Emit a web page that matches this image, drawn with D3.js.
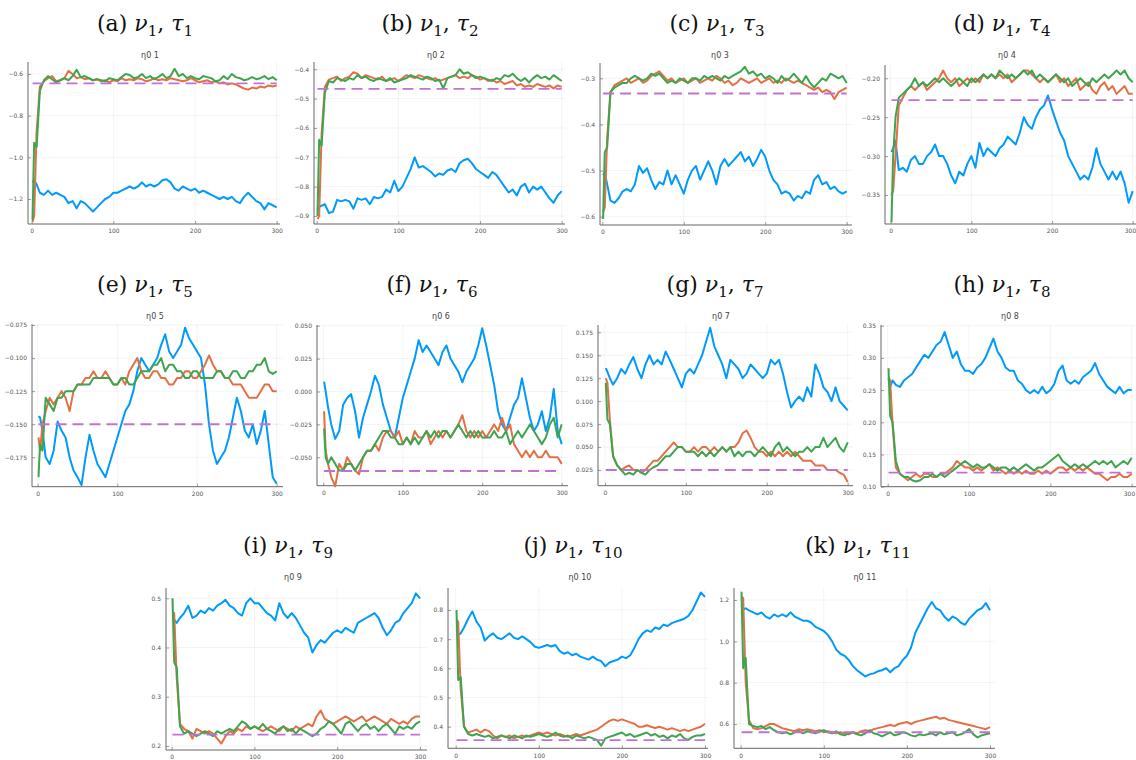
<!DOCTYPE html>
<html>
<head>
<meta charset="utf-8">
<script src="https://cdn.jsdelivr.net/npm/d3@7"></script>
<style>
	body { margin: 0; background: #fff; }
	svg { display: block; }
</style>
</head>
<body>
<div id="fig"></div>
<script>
// iteration index of every stored sample (1,3,6,10 then every 5 steps)
var steps = [1, 3, 6, 10,
	15, 20, 25, 30, 35, 40, 45, 50, 55, 60,
	65, 70, 75, 80, 85, 90, 95, 100, 105, 110,
	115, 120, 125, 130, 135, 140, 145, 150, 155, 160,
	165, 170, 175, 180, 185, 190, 195, 200, 205, 210,
	215, 220, 225, 230, 235, 240, 245, 250, 255, 260,
	265, 270, 275, 280, 285, 290, 295, 300];

// (a)
var blue_a = [-1.12, -1.11, -1.13, -1.17,
	-1.18, -1.16, -1.18, -1.17, -1.18, -1.19, -1.22, -1.21, -1.245, -1.21,
	-1.22, -1.24, -1.26, -1.24, -1.22, -1.20, -1.19, -1.17, -1.17, -1.16,
	-1.15, -1.14, -1.15, -1.14, -1.12, -1.14, -1.13, -1.14, -1.13, -1.11,
	-1.105, -1.12, -1.15, -1.16, -1.14, -1.15, -1.16, -1.15, -1.17, -1.16,
	-1.17, -1.18, -1.19, -1.20, -1.19, -1.20, -1.19, -1.21, -1.22, -1.19,
	-1.17, -1.19, -1.21, -1.22, -1.25, -1.22, -1.23, -1.24];
var orange_a = [-1.31, -1.28, -0.88, -0.66,
	-0.635, -0.62, -0.61, -0.635, -0.63, -0.62, -0.585, -0.60, -0.62, -0.615,
	-0.625, -0.62, -0.63, -0.625, -0.635, -0.63, -0.64, -0.63, -0.635, -0.62,
	-0.63, -0.625, -0.63, -0.62, -0.625, -0.635, -0.63, -0.62, -0.63, -0.625,
	-0.63, -0.62, -0.625, -0.63, -0.635, -0.63, -0.62, -0.63, -0.64, -0.635,
	-0.63, -0.64, -0.635, -0.645, -0.64, -0.65, -0.645, -0.65, -0.66, -0.67,
	-0.675, -0.665, -0.67, -0.66, -0.665, -0.655, -0.66, -0.655];
var green_a = [-1.30, -0.93, -0.95, -0.68,
	-0.63, -0.61, -0.625, -0.64, -0.63, -0.62, -0.63, -0.61, -0.58, -0.615,
	-0.61, -0.62, -0.63, -0.625, -0.63, -0.635, -0.62, -0.625, -0.63, -0.615,
	-0.60, -0.605, -0.62, -0.615, -0.60, -0.62, -0.61, -0.625, -0.615, -0.60,
	-0.62, -0.61, -0.575, -0.61, -0.60, -0.62, -0.61, -0.62, -0.625, -0.61,
	-0.615, -0.62, -0.635, -0.63, -0.61, -0.625, -0.60, -0.615, -0.62, -0.63,
	-0.625, -0.615, -0.625, -0.62, -0.61, -0.625, -0.615, -0.63];

// (b)
var blue_b = [-0.88, -0.87, -0.865, -0.86,
	-0.89, -0.885, -0.845, -0.85, -0.845, -0.85, -0.875, -0.84, -0.845, -0.84,
	-0.86, -0.835, -0.84, -0.835, -0.81, -0.82, -0.78, -0.815, -0.80, -0.77,
	-0.74, -0.70, -0.735, -0.73, -0.74, -0.75, -0.765, -0.755, -0.76, -0.745,
	-0.74, -0.75, -0.72, -0.71, -0.705, -0.72, -0.74, -0.75, -0.76, -0.77,
	-0.75, -0.76, -0.78, -0.80, -0.82, -0.81, -0.83, -0.80, -0.79, -0.82,
	-0.80, -0.81, -0.80, -0.82, -0.84, -0.855, -0.83, -0.815];
var orange_b = [-0.91, -0.90, -0.62, -0.46,
	-0.435, -0.43, -0.425, -0.44, -0.43, -0.425, -0.41, -0.415, -0.43, -0.42,
	-0.425, -0.43, -0.435, -0.425, -0.44, -0.435, -0.43, -0.44, -0.43, -0.42,
	-0.425, -0.43, -0.42, -0.425, -0.43, -0.435, -0.43, -0.44, -0.435, -0.43,
	-0.425, -0.42, -0.43, -0.425, -0.43, -0.42, -0.425, -0.435, -0.43, -0.44,
	-0.435, -0.445, -0.44, -0.45, -0.445, -0.44, -0.455, -0.45, -0.46, -0.455,
	-0.46, -0.45, -0.455, -0.46, -0.455, -0.465, -0.455, -0.46];
var green_b = [-0.90, -0.64, -0.66, -0.48,
	-0.44, -0.445, -0.43, -0.435, -0.44, -0.43, -0.435, -0.42, -0.43, -0.425,
	-0.435, -0.44, -0.43, -0.435, -0.44, -0.43, -0.445, -0.44, -0.435, -0.43,
	-0.42, -0.425, -0.43, -0.435, -0.425, -0.43, -0.44, -0.435, -0.465, -0.43,
	-0.425, -0.42, -0.40, -0.415, -0.41, -0.42, -0.43, -0.425, -0.43, -0.435,
	-0.44, -0.43, -0.435, -0.42, -0.425, -0.415, -0.43, -0.44, -0.43, -0.445,
	-0.43, -0.42, -0.43, -0.425, -0.435, -0.42, -0.43, -0.44];

// (c)
var blue_c = [-0.51, -0.505, -0.53, -0.565,
	-0.57, -0.56, -0.545, -0.54, -0.545, -0.53, -0.49, -0.505, -0.495, -0.52,
	-0.54, -0.525, -0.53, -0.50, -0.53, -0.51, -0.53, -0.55, -0.52, -0.50,
	-0.49, -0.52, -0.50, -0.48, -0.50, -0.53, -0.49, -0.475, -0.49, -0.48,
	-0.47, -0.46, -0.48, -0.47, -0.49, -0.475, -0.455, -0.47, -0.50, -0.52,
	-0.53, -0.55, -0.545, -0.55, -0.565, -0.555, -0.56, -0.545, -0.55, -0.52,
	-0.51, -0.53, -0.525, -0.54, -0.535, -0.545, -0.55, -0.545];
var orange_c = [-0.59, -0.58, -0.43, -0.33,
	-0.315, -0.31, -0.305, -0.30, -0.31, -0.305, -0.30, -0.31, -0.305, -0.295,
	-0.29, -0.285, -0.295, -0.305, -0.30, -0.31, -0.305, -0.30, -0.31, -0.305,
	-0.30, -0.31, -0.305, -0.30, -0.305, -0.295, -0.30, -0.31, -0.305, -0.315,
	-0.31, -0.30, -0.305, -0.31, -0.305, -0.30, -0.31, -0.305, -0.30, -0.31,
	-0.305, -0.31, -0.30, -0.305, -0.31, -0.305, -0.31, -0.315, -0.32, -0.325,
	-0.32, -0.33, -0.325, -0.33, -0.345, -0.33, -0.325, -0.32];
var green_c = [-0.605, -0.46, -0.45, -0.33,
	-0.32, -0.315, -0.31, -0.31, -0.30, -0.295, -0.30, -0.305, -0.30, -0.29,
	-0.295, -0.29, -0.30, -0.31, -0.305, -0.31, -0.30, -0.305, -0.31, -0.30,
	-0.30, -0.305, -0.295, -0.30, -0.295, -0.30, -0.305, -0.295, -0.30, -0.295,
	-0.29, -0.285, -0.275, -0.29, -0.285, -0.295, -0.29, -0.30, -0.295, -0.30,
	-0.31, -0.295, -0.305, -0.30, -0.29, -0.30, -0.31, -0.295, -0.31, -0.32,
	-0.31, -0.30, -0.305, -0.29, -0.295, -0.30, -0.295, -0.31];

// (d)
var blue_d = [-0.295, -0.29, -0.28, -0.318,
	-0.315, -0.32, -0.305, -0.30, -0.31, -0.31, -0.30, -0.295, -0.285, -0.30,
	-0.30, -0.31, -0.325, -0.335, -0.32, -0.325, -0.31, -0.30, -0.315, -0.283,
	-0.30, -0.29, -0.295, -0.30, -0.29, -0.285, -0.275, -0.28, -0.285, -0.27,
	-0.25, -0.26, -0.265, -0.25, -0.24, -0.235, -0.222, -0.24, -0.255, -0.27,
	-0.28, -0.30, -0.31, -0.32, -0.33, -0.325, -0.33, -0.315, -0.29, -0.31,
	-0.32, -0.33, -0.32, -0.33, -0.32, -0.335, -0.36, -0.345];
var orange_d = [-0.35, -0.345, -0.30, -0.235,
	-0.225, -0.215, -0.21, -0.215, -0.21, -0.205, -0.215, -0.21, -0.205, -0.20,
	-0.19, -0.20, -0.205, -0.20, -0.21, -0.205, -0.20, -0.205, -0.20, -0.205,
	-0.195, -0.20, -0.195, -0.20, -0.195, -0.20, -0.195, -0.205, -0.20, -0.195,
	-0.19, -0.19, -0.195, -0.20, -0.205, -0.20, -0.205, -0.20, -0.195, -0.205,
	-0.20, -0.21, -0.205, -0.20, -0.215, -0.21, -0.205, -0.215, -0.22, -0.21,
	-0.205, -0.215, -0.21, -0.22, -0.215, -0.21, -0.22, -0.22];
var green_d = [-0.385, -0.30, -0.25, -0.225,
	-0.22, -0.215, -0.21, -0.20, -0.21, -0.205, -0.21, -0.205, -0.20, -0.205,
	-0.20, -0.205, -0.21, -0.205, -0.20, -0.205, -0.21, -0.20, -0.205, -0.20,
	-0.195, -0.20, -0.195, -0.20, -0.19, -0.195, -0.20, -0.195, -0.20, -0.195,
	-0.19, -0.195, -0.19, -0.20, -0.195, -0.20, -0.205, -0.20, -0.195, -0.20,
	-0.205, -0.20, -0.21, -0.205, -0.20, -0.205, -0.21, -0.20, -0.205, -0.20,
	-0.195, -0.20, -0.195, -0.19, -0.195, -0.19, -0.20, -0.205];

// (e)
var blue_e = [-0.144, -0.145, -0.155, -0.175,
	-0.18, -0.17, -0.148, -0.155, -0.16, -0.175, -0.185, -0.19, -0.196, -0.175,
	-0.158, -0.17, -0.18, -0.185, -0.19, -0.18, -0.17, -0.16, -0.15, -0.14,
	-0.135, -0.125, -0.11, -0.10, -0.105, -0.11, -0.105, -0.10, -0.09, -0.082,
	-0.095, -0.10, -0.095, -0.09, -0.077, -0.085, -0.09, -0.095, -0.10, -0.12,
	-0.15, -0.17, -0.18, -0.175, -0.17, -0.16, -0.145, -0.13, -0.14, -0.155,
	-0.16, -0.15, -0.165, -0.155, -0.14, -0.165, -0.19, -0.195];
var orange_e = [-0.16, -0.17, -0.15, -0.14,
	-0.13, -0.135, -0.13, -0.125, -0.13, -0.14, -0.125, -0.12, -0.12, -0.115,
	-0.115, -0.11, -0.115, -0.115, -0.11, -0.115, -0.12, -0.12, -0.115, -0.12,
	-0.11, -0.105, -0.10, -0.11, -0.115, -0.115, -0.11, -0.11, -0.115, -0.115,
	-0.12, -0.12, -0.115, -0.115, -0.11, -0.11, -0.115, -0.115, -0.11, -0.105,
	-0.098, -0.105, -0.11, -0.11, -0.115, -0.115, -0.12, -0.12, -0.12, -0.125,
	-0.13, -0.13, -0.13, -0.125, -0.12, -0.12, -0.125, -0.125];
var green_e = [-0.19, -0.165, -0.17, -0.13,
	-0.135, -0.14, -0.13, -0.13, -0.125, -0.125, -0.125, -0.12, -0.12, -0.12,
	-0.12, -0.115, -0.115, -0.115, -0.115, -0.115, -0.12, -0.12, -0.115, -0.115,
	-0.12, -0.12, -0.115, -0.11, -0.11, -0.11, -0.105, -0.105, -0.10, -0.11,
	-0.105, -0.105, -0.11, -0.11, -0.115, -0.115, -0.11, -0.11, -0.115, -0.115,
	-0.115, -0.115, -0.11, -0.11, -0.115, -0.115, -0.11, -0.11, -0.115, -0.115,
	-0.11, -0.11, -0.105, -0.105, -0.10, -0.11, -0.112, -0.11];

// (f)
var blue_f = [0.0075, 0.0, -0.012, -0.025,
	-0.036, -0.03, -0.01, -0.005, -0.002, -0.015, -0.035, -0.02, -0.01, 0.0,
	0.012, 0.005, -0.01, -0.02, -0.03, -0.035, -0.02, -0.005, 0.005, 0.015,
	0.025, 0.039, 0.03, 0.035, 0.03, 0.025, 0.02, 0.03, 0.035, 0.025,
	0.02, 0.015, 0.007, 0.015, 0.02, 0.025, 0.035, 0.048, 0.035, 0.02,
	0.005, -0.015, -0.025, -0.03, -0.02, -0.01, -0.005, 0.01, -0.005, -0.02,
	-0.03, -0.025, -0.015, -0.03, -0.02, 0.002, -0.03, -0.04];
var orange_f = [-0.015, -0.045, -0.055, -0.065,
	-0.072, -0.055, -0.06, -0.05, -0.055, -0.06, -0.063, -0.05, -0.045, -0.045,
	-0.04, -0.045, -0.035, -0.03, -0.03, -0.035, -0.03, -0.04, -0.035, -0.04,
	-0.03, -0.035, -0.035, -0.03, -0.04, -0.035, -0.03, -0.035, -0.03, -0.035,
	-0.03, -0.025, -0.018, -0.03, -0.035, -0.03, -0.035, -0.03, -0.035, -0.03,
	-0.025, -0.03, -0.02, -0.03, -0.025, -0.04, -0.045, -0.05, -0.045, -0.05,
	-0.045, -0.05, -0.05, -0.045, -0.05, -0.05, -0.05, -0.055];
var green_f = [-0.028, -0.05, -0.055, -0.05,
	-0.055, -0.06, -0.06, -0.055, -0.055, -0.06, -0.055, -0.05, -0.045, -0.045,
	-0.04, -0.035, -0.03, -0.03, -0.035, -0.035, -0.04, -0.04, -0.035, -0.04,
	-0.035, -0.04, -0.035, -0.03, -0.035, -0.03, -0.035, -0.03, -0.03, -0.035,
	-0.03, -0.025, -0.03, -0.035, -0.03, -0.035, -0.03, -0.035, -0.035, -0.035,
	-0.03, -0.035, -0.035, -0.03, -0.04, -0.035, -0.03, -0.035, -0.03, -0.025,
	-0.03, -0.035, -0.04, -0.035, -0.025, -0.02, -0.035, -0.025];

// (g)
var blue_g = [0.136, 0.132, 0.125, 0.118,
	0.125, 0.135, 0.13, 0.14, 0.148, 0.135, 0.125, 0.14, 0.15, 0.14,
	0.145, 0.14, 0.154, 0.145, 0.135, 0.125, 0.115, 0.13, 0.135, 0.13,
	0.14, 0.15, 0.165, 0.18, 0.16, 0.15, 0.14, 0.125, 0.145, 0.14,
	0.135, 0.125, 0.13, 0.14, 0.135, 0.13, 0.125, 0.13, 0.145, 0.14,
	0.145, 0.13, 0.11, 0.093, 0.10, 0.105, 0.10, 0.115, 0.105, 0.14,
	0.13, 0.115, 0.11, 0.10, 0.115, 0.10, 0.095, 0.09];
var orange_g = [0.125, 0.12, 0.08, 0.04,
	0.03, 0.025, 0.028, 0.03, 0.025, 0.025, 0.022, 0.025, 0.03, 0.035,
	0.035, 0.04, 0.045, 0.05, 0.055, 0.05, 0.05, 0.045, 0.045, 0.05,
	0.045, 0.05, 0.05, 0.045, 0.05, 0.045, 0.05, 0.045, 0.05, 0.05,
	0.055, 0.065, 0.068, 0.06, 0.05, 0.045, 0.045, 0.04, 0.045, 0.04,
	0.045, 0.04, 0.045, 0.04, 0.045, 0.04, 0.035, 0.035, 0.035, 0.03,
	0.03, 0.03, 0.025, 0.025, 0.025, 0.022, 0.02, 0.012];
var green_g = [0.12, 0.08, 0.075, 0.04,
	0.03, 0.025, 0.02, 0.022, 0.02, 0.025, 0.022, 0.02, 0.025, 0.028,
	0.03, 0.035, 0.04, 0.04, 0.045, 0.05, 0.05, 0.045, 0.045, 0.045,
	0.04, 0.045, 0.04, 0.045, 0.04, 0.045, 0.05, 0.045, 0.05, 0.04,
	0.045, 0.04, 0.045, 0.045, 0.04, 0.045, 0.05, 0.045, 0.04, 0.05,
	0.055, 0.045, 0.05, 0.045, 0.04, 0.045, 0.045, 0.05, 0.045, 0.05,
	0.05, 0.06, 0.05, 0.055, 0.06, 0.05, 0.045, 0.055];

// (h)
var blue_h = [0.268, 0.255, 0.265, 0.258,
	0.255, 0.265, 0.27, 0.275, 0.285, 0.295, 0.305, 0.30, 0.31, 0.32,
	0.325, 0.34, 0.32, 0.30, 0.31, 0.29, 0.28, 0.28, 0.275, 0.285,
	0.29, 0.30, 0.315, 0.33, 0.31, 0.30, 0.285, 0.28, 0.28, 0.265,
	0.26, 0.25, 0.245, 0.25, 0.245, 0.255, 0.245, 0.25, 0.26, 0.28,
	0.288, 0.265, 0.26, 0.265, 0.26, 0.27, 0.275, 0.28, 0.292, 0.275,
	0.265, 0.255, 0.25, 0.245, 0.255, 0.245, 0.25, 0.25];
var orange_h = [0.27, 0.265, 0.196, 0.13,
	0.12, 0.115, 0.11, 0.115, 0.12, 0.115, 0.12, 0.12, 0.115, 0.115,
	0.12, 0.12, 0.125, 0.13, 0.14, 0.135, 0.13, 0.13, 0.125, 0.13,
	0.125, 0.13, 0.135, 0.125, 0.13, 0.125, 0.12, 0.125, 0.12, 0.125,
	0.12, 0.125, 0.12, 0.12, 0.125, 0.12, 0.125, 0.12, 0.125, 0.13,
	0.13, 0.125, 0.13, 0.125, 0.13, 0.125, 0.13, 0.125, 0.12, 0.12,
	0.115, 0.11, 0.115, 0.115, 0.12, 0.115, 0.115, 0.12];
var green_h = [0.284, 0.21, 0.20, 0.14,
	0.12, 0.115, 0.115, 0.11, 0.108, 0.11, 0.115, 0.115, 0.12, 0.115,
	0.12, 0.115, 0.12, 0.125, 0.13, 0.135, 0.14, 0.135, 0.13, 0.135,
	0.13, 0.13, 0.135, 0.13, 0.125, 0.13, 0.13, 0.125, 0.13, 0.125,
	0.13, 0.135, 0.13, 0.125, 0.13, 0.13, 0.135, 0.14, 0.145, 0.15,
	0.14, 0.135, 0.13, 0.135, 0.13, 0.135, 0.13, 0.135, 0.14, 0.135,
	0.14, 0.135, 0.14, 0.13, 0.135, 0.14, 0.135, 0.145];

// (i)
var blue_i = [0.456, 0.456, 0.45, 0.46,
	0.47, 0.485, 0.46, 0.465, 0.475, 0.47, 0.48, 0.475, 0.485, 0.49,
	0.497, 0.485, 0.48, 0.47, 0.465, 0.49, 0.50, 0.49, 0.49, 0.48,
	0.47, 0.465, 0.455, 0.49, 0.47, 0.46, 0.47, 0.46, 0.445, 0.43,
	0.42, 0.39, 0.405, 0.415, 0.41, 0.42, 0.43, 0.435, 0.43, 0.44,
	0.435, 0.43, 0.45, 0.455, 0.46, 0.465, 0.47, 0.46, 0.44, 0.425,
	0.435, 0.45, 0.455, 0.47, 0.48, 0.49, 0.51, 0.50];
var orange_i = [0.47, 0.47, 0.34, 0.245,
	0.235, 0.23, 0.215, 0.235, 0.23, 0.225, 0.23, 0.225, 0.215, 0.205,
	0.22, 0.23, 0.225, 0.235, 0.23, 0.24, 0.235, 0.24, 0.235, 0.23,
	0.235, 0.24, 0.235, 0.23, 0.24, 0.235, 0.23, 0.24, 0.235, 0.24,
	0.245, 0.24, 0.26, 0.272, 0.255, 0.25, 0.245, 0.25, 0.255, 0.26,
	0.255, 0.25, 0.255, 0.26, 0.25, 0.255, 0.26, 0.255, 0.25, 0.245,
	0.255, 0.25, 0.245, 0.25, 0.245, 0.255, 0.26, 0.26];
var green_i = [0.50, 0.37, 0.36, 0.24,
	0.225, 0.23, 0.225, 0.22, 0.225, 0.23, 0.225, 0.22, 0.23, 0.225,
	0.23, 0.235, 0.23, 0.24, 0.25, 0.245, 0.235, 0.24, 0.235, 0.245,
	0.235, 0.23, 0.225, 0.235, 0.24, 0.23, 0.235, 0.225, 0.235, 0.23,
	0.225, 0.22, 0.225, 0.235, 0.24, 0.25, 0.245, 0.235, 0.225, 0.245,
	0.25, 0.24, 0.23, 0.24, 0.245, 0.235, 0.24, 0.23, 0.24, 0.245,
	0.235, 0.225, 0.24, 0.235, 0.24, 0.235, 0.245, 0.25];

// (j)
var blue_j = [0.714, 0.714, 0.72, 0.74,
	0.77, 0.795, 0.76, 0.74, 0.695, 0.71, 0.72, 0.705, 0.70, 0.71,
	0.72, 0.705, 0.70, 0.71, 0.70, 0.69, 0.675, 0.67, 0.675, 0.68,
	0.675, 0.68, 0.66, 0.65, 0.655, 0.645, 0.65, 0.64, 0.635, 0.63,
	0.64, 0.63, 0.625, 0.607, 0.62, 0.625, 0.63, 0.64, 0.635, 0.645,
	0.67, 0.70, 0.72, 0.73, 0.725, 0.74, 0.735, 0.75, 0.745, 0.755,
	0.76, 0.765, 0.77, 0.78, 0.80, 0.83, 0.86, 0.845];
var orange_j = [0.766, 0.76, 0.53, 0.40,
	0.38, 0.385, 0.39, 0.38, 0.39, 0.385, 0.37, 0.36, 0.37, 0.365,
	0.37, 0.36, 0.365, 0.37, 0.365, 0.37, 0.375, 0.38, 0.375, 0.38,
	0.375, 0.37, 0.375, 0.37, 0.365, 0.37, 0.375, 0.37, 0.375, 0.38,
	0.385, 0.39, 0.40, 0.41, 0.42, 0.425, 0.42, 0.425, 0.42, 0.415,
	0.41, 0.40, 0.40, 0.405, 0.40, 0.395, 0.40, 0.395, 0.39, 0.395,
	0.39, 0.385, 0.39, 0.385, 0.39, 0.395, 0.40, 0.41];
var green_j = [0.80, 0.56, 0.57, 0.40,
	0.375, 0.37, 0.375, 0.37, 0.365, 0.37, 0.36, 0.365, 0.37, 0.365,
	0.36, 0.37, 0.365, 0.36, 0.37, 0.365, 0.37, 0.375, 0.37, 0.365,
	0.37, 0.38, 0.37, 0.365, 0.37, 0.36, 0.37, 0.365, 0.36, 0.365,
	0.36, 0.355, 0.335, 0.36, 0.365, 0.37, 0.375, 0.38, 0.37, 0.375,
	0.365, 0.37, 0.375, 0.38, 0.37, 0.375, 0.365, 0.37, 0.36, 0.37,
	0.365, 0.375, 0.36, 0.355, 0.365, 0.37, 0.37, 0.375];

// (k)
var blue_k = [1.152, 1.152, 1.16, 1.15,
	1.14, 1.13, 1.14, 1.12, 1.11, 1.13, 1.12, 1.13, 1.12, 1.14,
	1.12, 1.11, 1.10, 1.10, 1.09, 1.07, 1.06, 1.05, 1.03, 1.00,
	0.96, 0.94, 0.93, 0.91, 0.88, 0.86, 0.845, 0.83, 0.84, 0.845,
	0.855, 0.86, 0.87, 0.85, 0.87, 0.88, 0.91, 0.93, 0.97, 1.04,
	1.08, 1.12, 1.16, 1.19, 1.16, 1.15, 1.12, 1.10, 1.12, 1.11,
	1.09, 1.08, 1.11, 1.13, 1.15, 1.16, 1.185, 1.15];
var orange_k = [1.216, 1.21, 0.80, 0.62,
	0.58, 0.575, 0.58, 0.59, 0.60, 0.60, 0.59, 0.58, 0.575, 0.57,
	0.565, 0.575, 0.57, 0.575, 0.57, 0.565, 0.57, 0.56, 0.565, 0.56,
	0.555, 0.56, 0.555, 0.55, 0.56, 0.555, 0.565, 0.57, 0.565, 0.575,
	0.58, 0.585, 0.59, 0.595, 0.59, 0.60, 0.605, 0.61, 0.60, 0.61,
	0.615, 0.62, 0.625, 0.63, 0.635, 0.625, 0.63, 0.62, 0.615, 0.61,
	0.605, 0.60, 0.595, 0.59, 0.585, 0.58, 0.575, 0.585];
var green_k = [1.24, 0.87, 0.92, 0.60,
	0.59, 0.585, 0.59, 0.575, 0.585, 0.57, 0.56, 0.555, 0.56, 0.55,
	0.56, 0.565, 0.555, 0.565, 0.56, 0.555, 0.565, 0.57, 0.56, 0.555,
	0.565, 0.55, 0.545, 0.555, 0.56, 0.55, 0.545, 0.555, 0.57, 0.555,
	0.55, 0.54, 0.55, 0.56, 0.545, 0.55, 0.56, 0.555, 0.545, 0.54,
	0.55, 0.545, 0.55, 0.555, 0.545, 0.56, 0.55, 0.555, 0.56, 0.545,
	0.55, 0.56, 0.575, 0.55, 0.535, 0.545, 0.55, 0.555];

// dashed reference level of each panel
var refLevels = [-0.645, -0.467, -0.333, -0.228, -0.150, -0.0604, 0.025, 0.122, 0.223, 0.354, 0.56];

var panelLetters = ["a", "b", "c", "d", "e", "f", "g", "h", "i", "j", "k"];
var tauIndex = ["1", "2", "3", "4", "5", "6", "7", "8", "9", "10", "11"];

var xTicks = [0, 100, 200, 300];
var yTickValues = [
	[-1.2, -1.0, -0.8, -0.6],
	[-0.9, -0.8, -0.7, -0.6, -0.5, -0.4],
	[-0.6, -0.5, -0.4, -0.3],
	[-0.35, -0.30, -0.25, -0.20],
	[-0.175, -0.150, -0.125, -0.100, -0.075],
	[-0.050, -0.025, 0.000, 0.025, 0.050],
	[0.025, 0.050, 0.075, 0.100, 0.125, 0.150, 0.175],
	[0.10, 0.15, 0.20, 0.25, 0.30, 0.35],
	[0.2, 0.3, 0.4, 0.5],
	[0.4, 0.5, 0.6, 0.7, 0.8],
	[0.6, 0.8, 1.0, 1.2]
];
var yTickLabels = [
	["−1.2", "−1.0", "−0.8", "−0.6"],
	["−0.9", "−0.8", "−0.7", "−0.6", "−0.5", "−0.4"],
	["−0.6", "−0.5", "−0.4", "−0.3"],
	["−0.35", "−0.30", "−0.25", "−0.20"],
	["−0.175", "−0.150", "−0.125", "−0.100", "−0.075"],
	["−0.050", "−0.025", "0.000", "0.025", "0.050"],
	["0.025", "0.050", "0.075", "0.100", "0.125", "0.150", "0.175"],
	["0.10", "0.15", "0.20", "0.25", "0.30", "0.35"],
	["0.2", "0.3", "0.4", "0.5"],
	["0.4", "0.5", "0.6", "0.7", "0.8"],
	["0.6", "0.8", "1.0", "1.2"]
];

var seriesBlue = [blue_a, blue_b, blue_c, blue_d, blue_e, blue_f, blue_g, blue_h, blue_i, blue_j, blue_k];
var seriesOrange = [orange_a, orange_b, orange_c, orange_d, orange_e, orange_f, orange_g, orange_h, orange_i, orange_j, orange_k];
var seriesGreen = [green_a, green_b, green_c, green_d, green_e, green_f, green_g, green_h, green_i, green_j, green_k];

// page layout of every panel (pixels): axis line, x range, frame, y calibration
var layout = [
	{ ax: 28, x0: 31.7, x1: 276.7, xe: 280, top: 62, bot: 224, yv: [-1.2, -0.6], yp: [199, 74], tx: 145, ty: 31, sx: 150, sy: 58 },
	{ ax: 314, x0: 316.7, x1: 561.7, xe: 565, top: 62, bot: 224, yv: [-0.9, -0.4], yp: [216, 69.3], tx: 430, ty: 31, sx: 436, sy: 58 },
	{ ax: 600, x0: 602.3, x1: 846.7, xe: 852, top: 63, bot: 225, yv: [-0.6, -0.3], yp: [216.7, 78.3], tx: 717, ty: 31, sx: 720, sy: 58 },
	{ ax: 885, x0: 890.7, x1: 1132.7, xe: 1136, top: 65, bot: 224, yv: [-0.35, -0.2], yp: [195, 78.3], tx: 1002, ty: 31, sx: 1007, sy: 58 },
	{ ax: 32, x0: 37.7, x1: 276.7, xe: 283, top: 324, bot: 486.7, yv: [-0.175, -0.075], yp: [457.3, 325], tx: 145, ty: 292, sx: 155, sy: 319 },
	{ ax: 317, x0: 323.3, x1: 561.7, xe: 568, top: 325, bot: 485.7, yv: [-0.05, 0.05], yp: [457.3, 325.7], tx: 432, ty: 292, sx: 441, sy: 319 },
	{ ax: 598, x0: 605, x1: 847.7, xe: 853, top: 325, bot: 485.7, yv: [0.025, 0.175], yp: [470, 332.3], tx: 715, ty: 292, sx: 721, sy: 319 },
	{ ax: 881, x0: 887.7, x1: 1131.7, xe: 1136, top: 325, bot: 486.7, yv: [0.10, 0.35], yp: [486.7, 325.7], tx: 1002, ty: 292, sx: 1010, sy: 319 },
	{ ax: 166, x0: 171.7, x1: 420, xe: 427, top: 588, bot: 750, yv: [0.2, 0.5], yp: [746, 598.3], tx: 288, ty: 553, sx: 293, sy: 580 },
	{ ax: 448, x0: 455.7, x1: 705, xe: 708, top: 588, bot: 748.3, yv: [0.4, 0.8], yp: [726.7, 610], tx: 573, ty: 553, sx: 580, sy: 580 },
	{ ax: 734, x0: 740.7, x1: 990, xe: 995, top: 588, bot: 748.3, yv: [0.6, 1.2], yp: [724, 600], tx: 858, ty: 553, sx: 865, sy: 580 }
];

var colors = { blue: "#009AFA", orange: "#E36F47", green: "#3EA44E", purple: "#C271D2" };

var svg = d3.select("#fig")
	.append("svg")
	.attr("width", 1136)
	.attr("height", 760);

svg.append("rect").attr("width", 1136).attr("height", 760).attr("fill", "#fff");

layout.forEach(function (p, k) {
	var x = d3.scaleLinear().domain([0, 300]).range([p.x0, p.x1]);
	var y = d3.scaleLinear().domain(p.yv).range(p.yp);
	var g = svg.append("g");

	// faint grid
	g.selectAll(".vgrid")
		.data(xTicks)
		.enter()
		.append("line")
		.attr("x1", function (d) { return x(d); })
		.attr("x2", function (d) { return x(d); })
		.attr("y1", p.top)
		.attr("y2", p.bot)
		.attr("stroke", "#000")
		.attr("stroke-opacity", 0.07)
		.attr("stroke-width", 0.7);
	g.selectAll(".hgrid")
		.data(yTickValues[k])
		.enter()
		.append("line")
		.attr("x1", p.ax)
		.attr("x2", p.xe)
		.attr("y1", function (d) { return y(d); })
		.attr("y2", function (d) { return y(d); })
		.attr("stroke", "#000")
		.attr("stroke-opacity", 0.07)
		.attr("stroke-width", 0.7);

	// axes
	var xAxis = d3.axisBottom(x).tickValues(xTicks).tickSizeInner(-3).tickSizeOuter(0).tickPadding(5);
	var yAxis = d3.axisLeft(y).tickValues(yTickValues[k])
		.tickFormat(function (d, i) { return yTickLabels[k][i]; })
		.tickSizeInner(-3).tickSizeOuter(0).tickPadding(5);

	var gx = g.append("g").attr("transform", "translate(0," + p.bot + ")").call(xAxis);
	var gy = g.append("g").attr("transform", "translate(" + p.ax + ",0)").call(yAxis);
	[gx, gy].forEach(function (a) {
		a.select(".domain").remove();
		a.selectAll(".tick line").attr("stroke", "#777").attr("stroke-width", 0.7);
		a.selectAll(".tick text")
			.attr("fill", "#555")
			.style("font-family", "'DejaVu Sans', sans-serif")
			.style("font-size", "6px");
	});
	// keep a label that would run past the page edge inside it
	gx.selectAll(".tick text")
		.filter(function (d) { return x(d) > 1126; })
		.attr("text-anchor", "end")
		.attr("dx", 3);

	g.append("line")
		.attr("x1", p.ax).attr("x2", p.ax)
		.attr("y1", p.top).attr("y2", p.bot)
		.attr("stroke", "#666").attr("stroke-width", 1);
	g.append("line")
		.attr("x1", p.ax).attr("x2", p.xe)
		.attr("y1", p.bot).attr("y2", p.bot)
		.attr("stroke", "#666").attr("stroke-width", 1);

	var line = d3.line()
		.x(function (d, i) { return x(steps[i]); })
		.y(function (d) { return y(d); });

	[[seriesBlue[k], colors.blue], [seriesOrange[k], colors.orange], [seriesGreen[k], colors.green]].forEach(function (s) {
		g.append("path")
			.datum(s[0])
			.attr("fill", "none")
			.attr("stroke", s[1])
			.attr("stroke-width", 2)
			.attr("stroke-linejoin", "round")
			.attr("d", line);
	});

	// dashed reference level
	g.append("path")
		.datum([1, 300])
		.attr("fill", "none")
		.attr("stroke", colors.purple)
		.attr("stroke-width", 1.8)
		.attr("stroke-dasharray", "11,6")
		.attr("d", d3.line()
			.x(function (d) { return x(d); })
			.y(function () { return y(refLevels[k]); }));

	// subtitle
	g.append("text")
		.attr("x", p.sx)
		.attr("y", p.sy)
		.attr("text-anchor", "middle")
		.attr("fill", "#444")
		.style("font-family", "'DejaVu Sans', sans-serif")
		.style("font-size", "8px")
		.text("η0 " + tauIndex[k]);

	// panel caption
	var t = svg.append("text")
		.attr("x", p.tx)
		.attr("y", p.ty)
		.attr("text-anchor", "middle")
		.attr("fill", "#111")
		.style("font-family", "'DejaVu Serif', serif")
		.style("font-size", "22px");
	t.append("tspan").text("(" + panelLetters[k] + ") ");
	t.append("tspan").style("font-style", "italic").text("ν");
	t.append("tspan").attr("dy", 5).style("font-size", "15px").text("1");
	t.append("tspan").attr("dy", -5).text(", ");
	t.append("tspan").style("font-style", "italic").text("τ");
	t.append("tspan").attr("dy", 5).style("font-size", "15px").text(tauIndex[k]);
});
</script>
</body>
</html>
